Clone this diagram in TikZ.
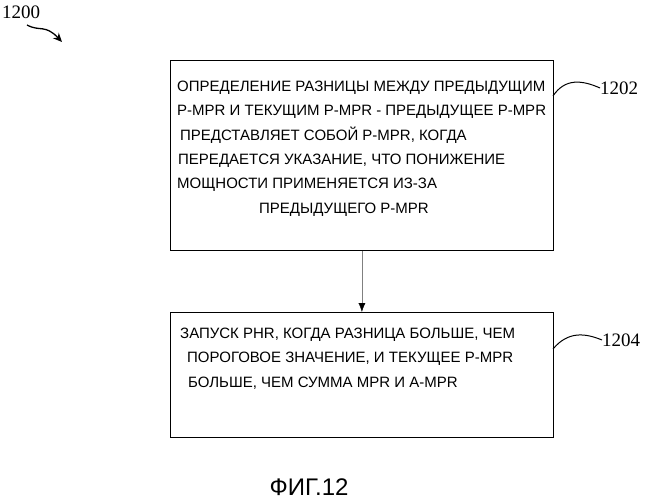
\documentclass[tikz,border=0pt]{standalone}
\usepackage{fontspec}
\setmainfont{Liberation Sans}
\newfontfamily\numfont{Liberation Serif}
\usetikzlibrary{positioning, arrows.meta}
\tikzset{stepbox/.style={draw, line width=0.8pt, minimum width=383pt, anchor=north west},
  boxtext/.style={anchor=north west, align=left, font=\fontsize{15}{24.3}\selectfont, inner sep=0pt},
  reflabel/.style={font=\numfont\fontsize{19}{19}\selectfont, anchor=west, inner sep=0pt}}
\begin{document}
\begin{tikzpicture}[x=1pt, y=-1pt]
\useasboundingbox (0,0) rectangle (645,500);
\node[stepbox, minimum height=190pt] (b1) at (170,60) {};
\node[stepbox, minimum height=125pt] (b2) at (170,312) {};
\node[boxtext] (t1) at (177,81) {ОПРЕДЕЛЕНИЕ РАЗНИЦЫ МЕЖДУ ПРЕДЫДУЩИМ\\
P-MPR И ТЕКУЩИМ P-MPR - ПРЕДЫДУЩЕЕ P-MPR\\
\hspace{3pt}ПРЕДСТАВЛЯЕТ СОБОЙ P-MPR, КОГДА\\
\hspace{1pt}ПЕРЕДАЕТСЯ УКАЗАНИЕ, ЧТО ПОНИЖЕНИЕ\\
МОЩНОСТИ ПРИМЕНЯЕТСЯ ИЗ-ЗА\\
\hspace{82pt}ПРЕДЫДУЩЕГО P-MPR};
\node[boxtext] (t2) at (180,328) {ЗАПУСК PHR, КОГДА РАЗНИЦА БОЛЬШЕ, ЧЕМ\\
\hspace{7pt}ПОРОГОВОЕ ЗНАЧЕНИЕ, И ТЕКУЩЕЕ P-MPR\\
\hspace{8pt}БОЛЬШЕ, ЧЕМ СУММА MPR И A-MPR};
\draw[gray, -{Latex[black, length=9pt, width=7pt]}] (b1.south) -- (b2.north);
\node[reflabel] (l1202) at (600,88) {1202};
\node[reflabel] (l1204) at (602,340) {1204};
\node[reflabel] (l1200) at (2,12) {1200};
\coordinate (c1) at (553,96);
\coordinate (c2) at (553,349);
\draw[line width=1pt] (c1) .. controls (565,78) and (582,80) .. (l1202.west);
\draw[line width=1pt] (c2) .. controls (568,331) and (585,333) .. (l1204.west);
\coordinate (c0) at (27,25);
\coordinate (a0) at (62,42);
\draw[line width=1.3pt, -{Stealth[length=9pt,width=8pt]}] (c0) .. controls (40,32) and (45,24) .. (a0);
\node[font=\fontsize{24}{24}\selectfont] (fig) at (309,487) {ФИГ.12};
\end{tikzpicture}
\end{document}
